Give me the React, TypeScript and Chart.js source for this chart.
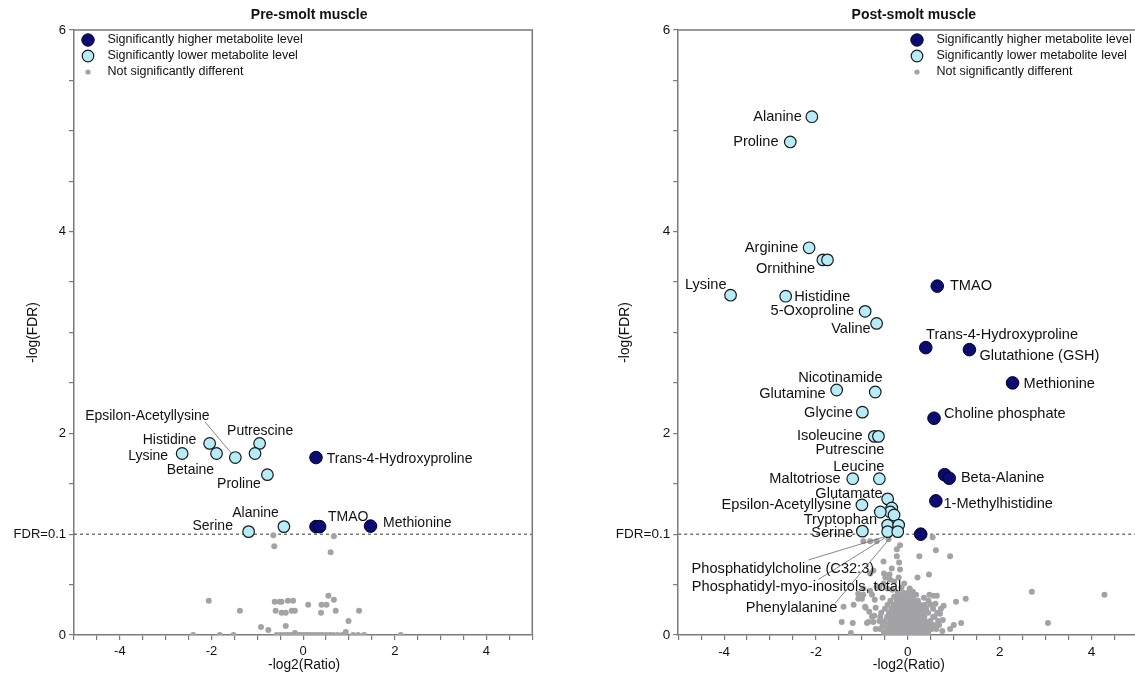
import React, { useEffect, useRef } from "react";
import { Chart, registerables } from "chart.js";

Chart.register(...registerables);

// ---------- shared axis / legend text ----------
const xTickValues = [-4, -2, 0, 2, 4];
const yTickValues = [0, 2, 4, 6];
const fdrLineY = 1;
const fdrLabel = "FDR=0.1";
const xTitle = "-log2(Ratio)";
const yTitle = "-log(FDR)";
const legendLabels = [
  "Significantly higher metabolite level",
  "Significantly lower metabolite level",
  "Not significantly different",
];

// ---------- Pre-smolt muscle ----------
const preTitle = "Pre-smolt muscle";
const preHigherNames = ["Trans-4-Hydroxyproline", "", "TMAO", "Methionine"];
const preHigherX = [0.28, 0.28, 0.36, 1.47];
const preHigherY = [1.76, 1.075, 1.075, 1.08];
const preLowerNames = ["Histidine", "Lysine", "Betaine", "Epsilon-Acetyllysine", "Putrescine", "", "Proline", "Serine", "Alanine"];
const preLowerX = [-2.04, -2.64, -1.89, -1.48, -0.95, -1.05, -0.78, -1.19, -0.42];
const preLowerY = [1.9, 1.8, 1.8, 1.76, 1.9, 1.8, 1.59, 1.025, 1.075];
const preGray: [number, number][] = [
  [-0.65, 0.99], [0.67, 0.98], [-0.63, 0.88], [0.6, 0.82], [0.55, 0.39], [0.67, 0.35],
  [-2.06, 0.34], [-0.62, 0.33], [-0.51, 0.33], [-0.47, 0.33], [-0.33, 0.34], [-0.22, 0.34],
  [0.11, 0.3], [0.4, 0.3], [0.51, 0.3], [-1.38, 0.24], [-0.6, 0.24], [-0.47, 0.22],
  [-0.38, 0.22], [-0.25, 0.24], [-0.18, 0.24], [0.39, 0.22], [0.71, 0.24], [1.22, 0.24],
  [-0.38, 0.09], [-0.92, 0.08], [-0.76, 0.05], [0.99, 0.14], [0.93, 0.03], [-0.18, 0.02],
  [-2.4, 0], [-1.82, 0], [-1.52, 0], [-0.58, 0], [-0.5, 0], [-0.42, 0], [-0.35, 0],
  [-0.28, 0], [-0.22, 0], [-0.15, 0], [-0.1, 0], [-0.05, 0], [0, 0], [0.05, 0], [0.1, 0],
  [0.16, 0], [0.22, 0], [0.28, 0], [0.35, 0], [0.42, 0], [0.5, 0], [0.58, 0], [0.66, 0],
  [0.75, 0], [0.85, 0], [1.09, 0], [1.2, 0], [1.33, 0], [2.13, 0],
];

// ---------- Post-smolt muscle ----------
const postTitle = "Post-smolt muscle";
const postHigherNames = ["TMAO", "Trans-4-Hydroxyproline", "Glutathione (GSH)", "Methionine", "Choline phosphate", "", "Beta-Alanine", "1-Methylhistidine", ""];
const postHigherX = [0.64, 0.39, 1.34, 2.28, 0.57, 0.8, 0.9, 0.61, 0.28];
const postHigherY = [3.46, 2.85, 2.83, 2.5, 2.15, 1.59, 1.555, 1.33, 1.0];
const postLowerNames = [
  "Alanine", "Proline", "Arginine", "Ornithine", "", "Lysine", "Histidine", "5-Oxoproline", "Valine",
  "Glutamine", "Nicotinamide", "Glycine", "Isoleucine", "Putrescine", "Maltotriose", "Leucine",
  "Glutamate", "Epsilon-Acetyllysine", "", "", "Tryptophan", "", "Phosphatidyl-myo-inositols, total", "",
  "Phosphatidylcholine (C32:3)", "Phenylalanine", "Serine",
];
const postLowerX = [
  -2.09, -2.56, -2.15, -1.85, -1.75, -3.86, -2.66, -0.93, -0.68,
  -1.55, -0.71, -0.99, -0.73, -0.64, -1.2, -0.62,
  -0.44, -1.0, -0.35, -0.38, -0.6, -0.3, -0.44, -0.2,
  -0.44, -0.22, -0.99,
];
const postLowerY = [
  5.14, 4.89, 3.84, 3.72, 3.72, 3.37, 3.36, 3.21, 3.09,
  2.43, 2.41, 2.21, 1.97, 1.97, 1.55, 1.55,
  1.35, 1.29, 1.26, 1.22, 1.22, 1.19, 1.09, 1.09,
  1.025, 1.025, 1.03,
];
const postGray: [number, number][] = [
  [-0.97, 0.93], [-0.82, 0.93], [-0.68, 0.93], [-0.42, 0.95], [-0.2, 0.99], [0.54, 0.97],
  [-0.17, 0.89], [-0.24, 0.85], [0.61, 0.84], [-0.19, 0.72],
  [-0.53, 0.73], [-0.24, 0.78], [0.25, 0.78], [0.92, 0.78],
  [-0.35, 0.66], [-0.17, 0.65], [-0.52, 0.61], [-0.4, 0.6], [0.46, 0.6], [-0.2, 0.57], [0.21, 0.57], [-0.3, 0.53], [-0.08, 0.51],
  [-0.97, 0.46], [-1.08, 0.41], [-0.82, 0.44], [-0.62, 0.47], [0.11, 0.43], [0.18, 0.4], [0.47, 0.4], [0.56, 0.39],
  [0.63, 0.39], [2.7, 0.43], [4.28, 0.4], [-0.45, 0.46], [-0.34, 0.45], [-0.14, 0.47], [0.04, 0.46],
  [1.26, 0.36], [1.05, 0.33], [-1.08, 0.36], [-1.0, 0.36], [-1.18, 0.3], [-0.72, 0.35], [-0.55, 0.37], [0.78, 0.29],
  [0.45, 0.34], [0.6, 0.31], [0.35, 0.37],
  [-1.4, 0.28], [-0.84, 0.23], [-0.92, 0.27], [0.7, 0.21], [0.55, 0.26], [-0.7, 0.27], [-0.78, 0.18],
  [-1.44, 0.13], [-1.2, 0.12], [-0.89, 0.12], [-0.75, 0.13], [0.76, 0.15], [1.16, 0.12], [3.05, 0.12], [0.68, 0.1],
  [-1.24, 0.02], [1.0, 0.1], [0.92, 0.06], [0.75, 0.04], [-0.7, 0.06],
  [-0.86, 0.13], [-0.73, 0.19], [-0.93, 0.28], [-0.78, 0.4], [-0.97, 0.4], [-0.68, 0.48], [-0.75, 0.64],
  [-0.82, 0.61], [-0.49, 0.57], [-0.39, 0.55], [-0.53, 0.51], [-0.6, 0.18],
  [0.58, 0.18], [0.6, 0.08], [0.66, 0.14], [0.72, 0.26],
  [-0.52, 0.02], [-0.4, 0.02], [-0.3, 0.02], [-0.22, 0.02], [-0.12, 0.02], [-0.04, 0.02], [0.03, 0.02], [0.1, 0.02], [0.18, 0.02], [0.26, 0.02], [0.35, 0.02], [0.44, 0.02],
  [-0.6, 0.06], [-0.47, 0.06], [-0.35, 0.06], [-0.26, 0.06], [-0.16, 0.06], [-0.08, 0.06], [0.0, 0.06], [0.07, 0.06], [0.15, 0.06], [0.22, 0.06], [0.31, 0.06], [0.4, 0.06], [0.52, 0.06], [0.62, 0.06],
  [-0.55, 0.1], [-0.43, 0.1], [-0.32, 0.1], [-0.24, 0.1], [-0.14, 0.1], [-0.06, 0.1], [0.02, 0.1], [0.09, 0.1], [0.17, 0.1], [0.25, 0.1], [0.33, 0.1], [0.45, 0.1], [0.57, 0.1],
  [-0.62, 0.14], [-0.5, 0.14], [-0.38, 0.14], [-0.28, 0.14], [-0.19, 0.14], [-0.1, 0.14], [-0.02, 0.14], [0.06, 0.14], [0.13, 0.14], [0.21, 0.14], [0.3, 0.14], [0.38, 0.14], [0.49, 0.14],
  [-0.45, 0.18], [-0.34, 0.18], [-0.25, 0.18], [-0.15, 0.18], [-0.07, 0.18], [0.01, 0.18], [0.09, 0.18], [0.18, 0.18], [0.27, 0.18], [0.36, 0.18], [0.55, 0.18],
  [-0.58, 0.22], [-0.41, 0.22], [-0.3, 0.22], [-0.2, 0.22], [-0.11, 0.22], [-0.03, 0.22], [0.05, 0.22], [0.14, 0.22], [0.24, 0.22], [0.33, 0.22], [0.44, 0.22], [0.64, 0.22],
  [-0.5, 0.26], [-0.36, 0.26], [-0.26, 0.26], [-0.16, 0.26], [-0.06, 0.26], [0.02, 0.26], [0.11, 0.26], [0.2, 0.26], [0.29, 0.26], [0.4, 0.26],
  [-0.44, 0.3], [-0.31, 0.3], [-0.21, 0.3], [-0.12, 0.3], [-0.03, 0.3], [0.06, 0.3], [0.15, 0.3], [0.26, 0.3], [0.37, 0.3], [0.5, 0.3],
  [-0.38, 0.34], [-0.24, 0.34], [-0.14, 0.34], [-0.05, 0.34], [0.04, 0.34], [0.13, 0.34], [0.22, 0.34],
  [-0.3, 0.38], [-0.18, 0.38], [-0.08, 0.38], [0.01, 0.38], [0.1, 0.38],
  [-0.22, 0.42], [-0.1, 0.42], [0.0, 0.42],
];

// ---------- label layout (pixel offsets from each point; not data) ----------
type LabelLayout = { dx: number; dy: number; align: CanvasTextAlign; line?: [number, number, number, number] } | null;

const preHigherLayout: LabelLayout[] = [
  { dx: 10.7, dy: 1.3, align: "left" },
  null,
  { dx: 8.3, dy: -9.7, align: "left" },
  { dx: 12.6, dy: -3.3, align: "left" },
];
const preLowerLayout: LabelLayout[] = [
  { dx: -13.3, dy: -3, align: "right" },
  { dx: -14, dy: 3, align: "right" },
  { dx: -2.4, dy: 17, align: "right" },
  { dx: -25.7, dy: -41, align: "right", line: [-30.7, -36, -4, -4.4] },
  { dx: 0.5, dy: -12.3, align: "center" },
  null,
  { dx: -6.7, dy: 9, align: "right" },
  { dx: -15.7, dy: -5.7, align: "right" },
  { dx: -5, dy: -13, align: "right" },
];
const postHigherLayout: LabelLayout[] = [
  { dx: 12.7, dy: 0, align: "left" },
  { dx: 0.3, dy: -12.7, align: "left" },
  { dx: 10, dy: 6.4, align: "left" },
  { dx: 11, dy: 0.7, align: "left" },
  { dx: 10, dy: -4.3, align: "left" },
  null,
  { dx: 11.7, dy: 0, align: "left" },
  { dx: 7.6, dy: 2.6, align: "left" },
  null,
];
const postLowerLayout: LabelLayout[] = [
  { dx: -10, dy: 0, align: "right" },
  { dx: -11.7, dy: 0, align: "right" },
  { dx: -10.7, dy: 0, align: "right" },
  { dx: -7.7, dy: 9, align: "right" },
  null,
  { dx: -4, dy: -10.7, align: "right" },
  { dx: 8.6, dy: 0.6, align: "left" },
  { dx: -11, dy: 0, align: "right" },
  { dx: -6, dy: 6, align: "right" },
  { dx: -11, dy: 4, align: "right" },
  { dx: 7.3, dy: -14.4, align: "right" },
  { dx: -9.6, dy: 0.6, align: "right" },
  { dx: -11.7, dy: 0, align: "right" },
  { dx: 6, dy: 13.3, align: "right" },
  { dx: -12, dy: 0, align: "right" },
  { dx: 5, dy: -11.6, align: "right" },
  { dx: -5, dy: -5.3, align: "right" },
  { dx: -10.6, dy: 0, align: "right" },
  null,
  null,
  { dx: -3.3, dy: 7.6, align: "right" },
  null,
  { dx: 13.5, dy: 61.7, align: "right", line: [-69.2, 54.3, -1.5, 12] },
  null,
  { dx: -13.5, dy: 37.6, align: "right", line: [-79.2, 28.3, -3.5, 5.3] },
  { dx: -60.3, dy: 76.6, align: "right", line: [-62.6, 71.6, -7.6, 6.3] },
  { dx: -9, dy: 2.3, align: "right" },
];

// ---------- styles ----------
const FONT = "'Liberation Sans', Arial, Helvetica, sans-serif";
const NAVY = "#0b0b70";
const LIGHT = "#b6ecf7";
const GRAY = "#a3a3a6";
const AXIS = "#7a7a7a";
const TEXT = "#111111";
const Y_AXIS_BOX = 72;

interface PanelSpec {
  title: string;
  higherNames: string[]; higherX: number[]; higherY: number[];
  lowerNames: string[]; lowerX: number[]; lowerY: number[];
  gray: [number, number][];
  higherLayout: LabelLayout[]; lowerLayout: LabelLayout[];
  canvasLeft: number; canvasWidth: number; areaLeft: number; padRight: number;
  labelFont: number; tickFont: number;
  legendFromRight: number | null; legendFromLeft: number | null;
  yTitleOffset: number;
}

const prePanel: PanelSpec = {
  title: preTitle,
  higherNames: preHigherNames, higherX: preHigherX, higherY: preHigherY,
  lowerNames: preLowerNames, lowerX: preLowerX, lowerY: preLowerY,
  gray: preGray, higherLayout: preHigherLayout, lowerLayout: preLowerLayout,
  canvasLeft: 0, canvasWidth: 566, areaLeft: 74, padRight: 33.7,
  labelFont: 14, tickFont: 13,
  legendFromRight: null, legendFromLeft: 14,
  yTitleOffset: 41,
};
const postPanel: PanelSpec = {
  title: postTitle,
  higherNames: postHigherNames, higherX: postHigherX, higherY: postHigherY,
  lowerNames: postLowerNames, lowerX: postLowerX, lowerY: postLowerY,
  gray: postGray, higherLayout: postHigherLayout, lowerLayout: postLowerLayout,
  canvasLeft: 540, canvasWidth: 606, areaLeft: 138.2, padRight: 8.5,
  labelFont: 14.6, tickFont: 13.5,
  legendFromRight: 220.5, legendFromLeft: null,
  yTitleOffset: 53,
};

function drawLabels(ctx: CanvasRenderingContext2D, meta: any, names: string[], layout: LabelLayout[], size: number) {
  ctx.font = `${size}px ${FONT}`;
  ctx.fillStyle = TEXT;
  ctx.textBaseline = "middle";
  names.forEach((name, i) => {
    const L = layout[i];
    const el = meta.data[i];
    if (!name || !L || !el) return;
    const x = el.x, y = el.y;
    if (L.line) {
      ctx.save();
      ctx.strokeStyle = "#6a6a6a";
      ctx.lineWidth = 0.8;
      ctx.beginPath();
      ctx.moveTo(x + L.line[0], y + L.line[1]);
      ctx.lineTo(x + L.line[2], y + L.line[3]);
      ctx.stroke();
      ctx.restore();
    }
    ctx.textAlign = L.align;
    ctx.fillText(name, x + L.dx, y + L.dy);
  });
}

function makeDecor(p: PanelSpec) {
  return {
    id: "decor",
    afterDatasetsDraw(chart: any) {
      const ctx: CanvasRenderingContext2D = chart.ctx;
      const a = chart.chartArea;
      ctx.save();
      ctx.strokeStyle = AXIS;
      ctx.lineWidth = 1.5;
      ctx.beginPath();
      ctx.moveTo(a.left, a.top);
      ctx.lineTo(a.right, a.top);
      ctx.lineTo(a.right, a.bottom);
      ctx.stroke();

      drawLabels(ctx, chart.getDatasetMeta(0), p.higherNames, p.higherLayout, p.labelFont);
      drawLabels(ctx, chart.getDatasetMeta(1), p.lowerNames, p.lowerLayout, p.labelFont);

      const mx = p.legendFromLeft !== null ? a.left + p.legendFromLeft : a.right - (p.legendFromRight as number);
      const rows = [a.top + 10, a.top + 26, a.top + 42];
      ctx.lineWidth = 1;
      ctx.fillStyle = NAVY; ctx.strokeStyle = "#000033";
      ctx.beginPath(); ctx.arc(mx, rows[0], 6.2, 0, Math.PI * 2); ctx.fill(); ctx.stroke();
      ctx.fillStyle = LIGHT; ctx.strokeStyle = "#1a1a1a"; ctx.lineWidth = 1.2;
      ctx.beginPath(); ctx.arc(mx, rows[1], 5.8, 0, Math.PI * 2); ctx.fill(); ctx.stroke();
      ctx.fillStyle = GRAY;
      ctx.beginPath(); ctx.arc(mx, rows[2], 2.6, 0, Math.PI * 2); ctx.fill();
      ctx.fillStyle = TEXT;
      ctx.font = `12.5px ${FONT}`;
      ctx.textAlign = "left";
      ctx.textBaseline = "middle";
      legendLabels.forEach((t, i) => ctx.fillText(t, mx + 19.5, rows[i]));

      ctx.font = `bold 14px ${FONT}`;
      ctx.textAlign = "center";
      ctx.fillText(p.title, (a.left + a.right) / 2 + 6, 15);

      ctx.font = `13.8px ${FONT}`;
      ctx.fillText(xTitle, (a.left + a.right) / 2 + 1, 665);
      ctx.save();
      ctx.translate(a.left - p.yTitleOffset, (a.top + a.bottom) / 2);
      ctx.rotate(-Math.PI / 2);
      ctx.fillText(yTitle, 0, 0);
      ctx.restore();

      ctx.restore();
    },
  };
}

function buildConfig(p: PanelSpec): any {
  return {
    type: "scatter",
    data: {
      datasets: [
        {
          label: legendLabels[0],
          data: p.higherX.map((x, i) => ({ x, y: p.higherY[i] })),
          backgroundColor: NAVY,
          borderColor: "#000033",
          borderWidth: 1,
          pointRadius: 6.3,
        },
        {
          label: legendLabels[1],
          data: p.lowerX.map((x, i) => ({ x, y: p.lowerY[i] })),
          backgroundColor: LIGHT,
          borderColor: "#1a1a1a",
          borderWidth: 1.2,
          pointRadius: 5.8,
        },
        {
          label: legendLabels[2],
          data: p.gray.map(([x, y]) => ({ x, y })),
          backgroundColor: GRAY,
          borderWidth: 0,
          pointRadius: 3,
        },
        {
          label: fdrLabel,
          data: [{ x: -5, y: fdrLineY }, { x: 5, y: fdrLineY }],
          showLine: true,
          borderColor: "#333333",
          borderWidth: 1,
          borderDash: [3, 3],
          pointRadius: 0,
        },
      ],
    },
    options: {
      responsive: false,
      animation: false,
      layout: { padding: { left: p.areaLeft - Y_AXIS_BOX, right: p.padRight, top: 30, bottom: 14 } },
      plugins: {
        legend: { display: false },
        tooltip: { enabled: false },
        title: { display: false },
      },
      scales: {
        x: {
          type: "linear",
          min: -5,
          max: 5,
          afterFit: (s: any) => { s.height = 30; },
          ticks: {
            stepSize: 0.5,
            autoSkip: false,
            maxRotation: 0,
            padding: 4,
            color: TEXT,
            font: { family: FONT, size: p.tickFont },
            callback: (v: number) => (xTickValues.includes(v) ? String(v) : ""),
          },
          grid: { drawOnChartArea: false, drawTicks: true, tickLength: 5, color: AXIS, lineWidth: 1.2 },
          border: { display: true, color: AXIS, width: 1.5 },
        },
        y: {
          type: "linear",
          min: 0,
          max: 6,
          afterFit: (s: any) => { s.width = Y_AXIS_BOX; },
          ticks: {
            stepSize: 0.5,
            autoSkip: false,
            padding: 3,
            color: TEXT,
            font: { family: FONT, size: p.tickFont },
            callback: (v: number) => (v === fdrLineY ? fdrLabel : yTickValues.includes(v) ? String(v) : ""),
          },
          grid: { drawOnChartArea: false, drawTicks: true, tickLength: 5, color: AXIS, lineWidth: 1.2 },
          border: { display: true, color: AXIS, width: 1.5 },
        },
      },
    },
    plugins: [makeDecor(p)],
  };
}

function Panel({ spec }: { spec: PanelSpec }) {
  const ref = useRef<HTMLCanvasElement>(null);
  useEffect(() => {
    if (!ref.current) return;
    const chart = new Chart(ref.current, buildConfig(spec));
    return () => chart.destroy();
  }, [spec]);
  return (
    <canvas
      ref={ref}
      width={spec.canvasWidth}
      height={679}
      style={{ position: "absolute", left: spec.canvasLeft, top: 0, width: spec.canvasWidth, height: 679 }}
    />
  );
}

export default function App() {
  return (
    <div style={{ position: "fixed", left: 0, top: 0, width: 1135, height: 679, overflow: "hidden", background: "#ffffff" }}>
      <Panel spec={prePanel} />
      <Panel spec={postPanel} />
    </div>
  );
}
